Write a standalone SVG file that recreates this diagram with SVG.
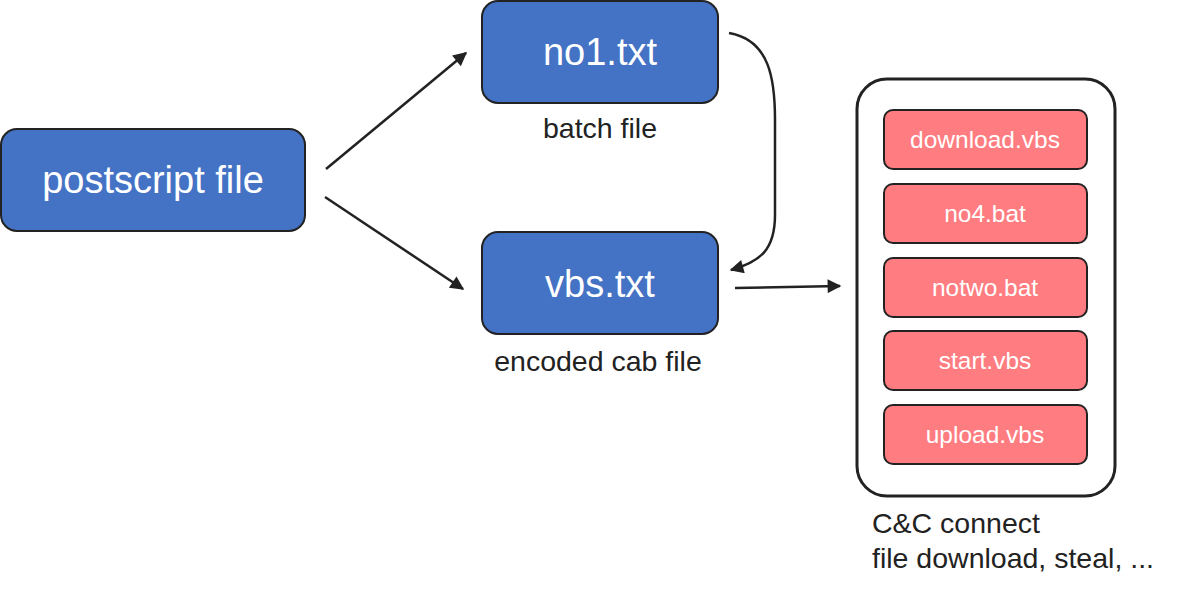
<svg xmlns="http://www.w3.org/2000/svg" width="1186" height="593" viewBox="0 0 1186 593">
<defs>
<marker id="arr" viewBox="0 0 10 10" refX="9" refY="5" markerWidth="6.5" markerHeight="5.5" markerUnits="strokeWidth" orient="auto">
<path d="M0,0 L10,5 L0,10 z" fill="#222"/>
</marker>
<style>
.blue{fill:#4472C4;stroke:#222;stroke-width:2}
.pink{fill:#FF7C80;stroke:#222;stroke-width:2}
.cont{fill:#fff;stroke:#222;stroke-width:3}
.big{font-family:"Liberation Sans",Arial,sans-serif;font-size:38px;fill:#fff;text-anchor:middle}
.small{font-family:"Liberation Sans",Arial,sans-serif;font-size:24.5px;fill:#fff;text-anchor:middle}
.lbl{font-family:"Liberation Sans",Arial,sans-serif;font-size:28.5px;fill:#222}
.conn{fill:none;stroke:#222;stroke-width:2.5;marker-end:url(#arr)}
</style>
</defs>
<rect width="1186" height="593" fill="#fff"/>
<g id="postscript">
<rect class="blue" x="1" y="129" width="304" height="102" rx="16"/>
<text class="big" x="153" y="193">postscript file</text>
</g>
<g id="no1">
<rect class="blue" x="482" y="1" width="236" height="102" rx="16"/>
<text class="big" x="600" y="65">no1.txt</text>
<text class="lbl" x="600" y="138" text-anchor="middle">batch file</text>
</g>
<g id="vbs">
<rect class="blue" x="482" y="232" width="236" height="102" rx="16"/>
<text class="big" x="600" y="297">vbs.txt</text>
<text class="lbl" x="598" y="371" text-anchor="middle">encoded cab file</text>
</g>
<g id="container">
<rect class="cont" x="857" y="79" width="258" height="417" rx="30"/>
<g id="download"><rect class="pink" x="884" y="110" width="203" height="59" rx="9"/><text class="small" x="985" y="148">download.vbs</text></g>
<g id="no4"><rect class="pink" x="884" y="184" width="203" height="59" rx="9"/><text class="small" x="985" y="222">no4.bat</text></g>
<g id="notwo"><rect class="pink" x="884" y="258" width="203" height="59" rx="9"/><text class="small" x="985" y="296">notwo.bat</text></g>
<g id="start"><rect class="pink" x="884" y="331" width="203" height="59" rx="9"/><text class="small" x="985" y="369">start.vbs</text></g>
<g id="upload"><rect class="pink" x="884" y="405" width="203" height="59" rx="9"/><text class="small" x="985" y="443">upload.vbs</text></g>
<text class="lbl" x="872" y="533">C&amp;C connect</text>
<text class="lbl" x="872" y="568">file download, steal, ...</text>
</g>
<g id="connectors">
<path class="conn" d="M326,169 L466,53"/>
<path class="conn" d="M325,197 L463,289"/>
<path class="conn" d="M729,33 C770,40 775,80 775,120 L775,215 C775,250 760,262 731,270"/>
<path class="conn" d="M735,288 L840,286"/>
</g>
</svg>
